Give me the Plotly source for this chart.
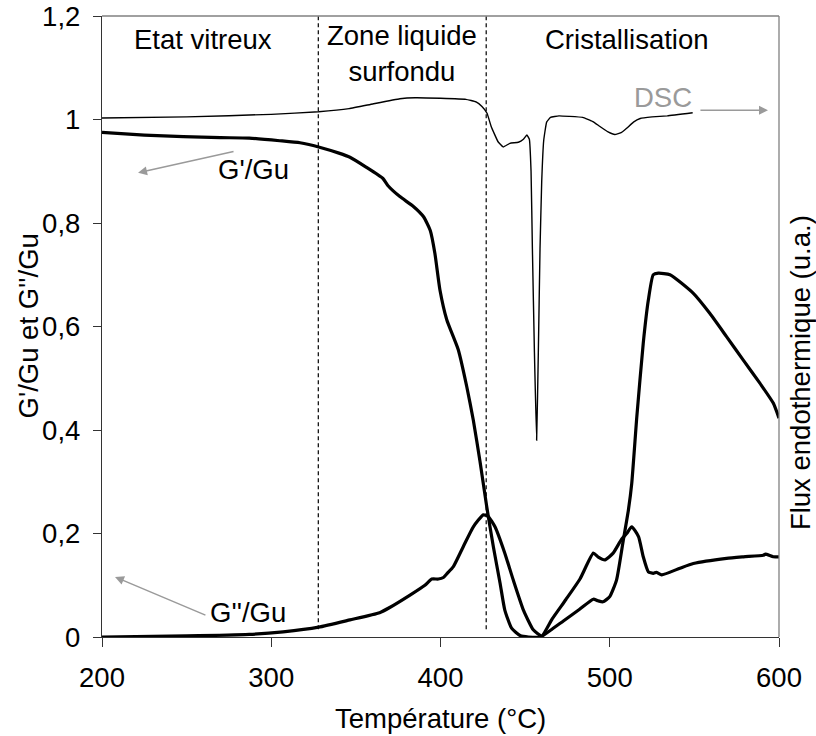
import plotly.graph_objects as go

# G'/Gu
t_g1 = [200, 225, 248, 270, 287, 305, 317, 329, 340, 346.5, 356, 366, 369, 376, 384, 390, 394,
        396.7, 399.7, 403.7, 410.5, 415.5, 419.4, 423.3, 427.3, 431.2, 435.2, 438, 442, 447, 452,
        459, 465, 472.6, 482, 490.3, 493, 496, 500, 504, 508, 511, 513, 516, 519.8, 522.8, 525.7,
        528.7, 535.6, 549.4, 559.2, 569.1, 578.9, 588.8, 596.6, 600]
g1 = [0.975, 0.970, 0.967, 0.965, 0.964, 0.959, 0.955, 0.946, 0.935, 0.927, 0.908, 0.886, 0.872,
      0.851, 0.832, 0.812, 0.785, 0.741, 0.670, 0.613, 0.555, 0.484, 0.419, 0.340, 0.252, 0.175,
      0.104, 0.052, 0.017, 0.003, 0.0, 0.0, 0.013, 0.031, 0.053, 0.073, 0.070, 0.068, 0.078,
      0.110, 0.187, 0.245, 0.297, 0.426, 0.568, 0.651, 0.700, 0.703, 0.700, 0.664, 0.625, 0.580,
      0.535, 0.490, 0.452, 0.423]

# G''/Gu
t_g2 = [200, 250, 287, 307, 328, 346.5, 364, 370, 382, 390.8, 394.8, 398.7, 401.7, 404, 407.6,
        413.5, 419.4, 425.3, 428.2, 432.2, 438, 443, 449, 454.8, 459.8, 466, 474, 482.4, 490.3,
        493, 497.2, 502, 507, 510, 513, 517, 519.8, 522.8, 525.7, 527.5, 530.7, 541.5, 549.4,
        569, 579, 590.7, 592, 596.6, 600]
g2 = [0.0, 0.002, 0.005, 0.010, 0.019, 0.033, 0.047, 0.057, 0.081, 0.100, 0.112, 0.112, 0.115,
      0.123, 0.136, 0.175, 0.213, 0.236, 0.233, 0.213, 0.162, 0.110, 0.052, 0.014, 0.002, 0.035,
      0.072, 0.112, 0.162, 0.155, 0.149, 0.162, 0.189, 0.200, 0.213, 0.194, 0.155, 0.126, 0.123,
      0.125, 0.120, 0.133, 0.142, 0.152, 0.155, 0.158, 0.160, 0.155, 0.155]

# DSC
t_dsc = [200, 250, 300, 328, 346, 360, 376, 385, 400, 415, 421, 424.5, 427.5, 430, 434, 437, 441,
         446, 449, 451, 452.5, 453.5, 454.3, 455.5, 456.8, 457.8, 458.8, 459.8, 461, 462.7, 465,
         470, 476, 484, 490, 494, 499, 503, 507, 510, 514, 518, 525, 534, 549]
dsc = [1.003, 1.005, 1.010, 1.015, 1.021, 1.030, 1.040, 1.042, 1.041, 1.039, 1.034, 1.025, 1.012,
       0.986, 0.957, 0.947, 0.954, 0.956, 0.962, 0.970, 0.962, 0.90, 0.75, 0.55, 0.38, 0.55, 0.75,
       0.88, 0.96, 0.995, 1.004, 1.007, 1.006, 1.004, 0.996, 0.987, 0.976, 0.971, 0.975, 0.983,
       0.995, 1.002, 1.005, 1.007, 1.013]

zone_limits = [327.8, 427]
zone_labels = ["Etat vitreux", "Zone liquide<br>surfondu", "Cristallisation"]
zone_label_x = [259.4, 377, 510]

FONT = "Liberation Sans, Arial, sans-serif"
FS = 27.5

fig = go.Figure()
fig.add_trace(go.Scatter(x=t_g1, y=g1, mode="lines", line=dict(color="black", width=3.2, shape="spline", smoothing=0.5), name="G'/Gu"))
fig.add_trace(go.Scatter(x=t_g2, y=g2, mode="lines", line=dict(color="black", width=3.2, shape="spline", smoothing=0.5), name="G''/Gu"))
fig.add_trace(go.Scatter(x=t_dsc, y=dsc, mode="lines", line=dict(color="black", width=1.4, shape="spline", smoothing=0.3), name="DSC"))

shapes = []
for xl in zone_limits:
    shapes.append(dict(type="line", xref="x", yref="y", x0=xl, x1=xl, y0=0.015, y1=1.2,
                       line=dict(color="black", width=1.2, dash="4px,3px")))
# frame top and right
shapes.append(dict(type="line", xref="paper", yref="paper", x0=0, x1=1, y0=1, y1=1,
                   line=dict(color="#808080", width=1.3)))
shapes.append(dict(type="line", xref="paper", yref="paper", x0=1, x1=1, y0=0, y1=1,
                   line=dict(color="#808080", width=1.3)))

ann = []
ann.append(dict(x=zone_label_x[0], y=1.155, text=zone_labels[0], showarrow=False))
ann.append(dict(x=zone_label_x[1], y=1.128, text=zone_labels[1], showarrow=False))
ann.append(dict(x=zone_label_x[2], y=1.155, text=zone_labels[2], showarrow=False))
ann.append(dict(x=289.8, y=0.903, text="G'/Gu", showarrow=False))
ann.append(dict(x=286.3, y=0.048, text="G''/Gu", showarrow=False))
ann.append(dict(x=531.5, y=1.043, text="DSC", showarrow=False, font=dict(color="#9a9a9a", size=FS, family=FONT)))
arrow_style = dict(text="", showarrow=True, axref="x", ayref="y", arrowhead=2, arrowsize=1.2,
                   arrowwidth=1.5, arrowcolor="#9a9a9a")
ann.append(dict(x=221.3, y=0.897, ax=278.6, ay=0.939, **arrow_style))
ann.append(dict(x=207.7, y=0.116, ax=262, ay=0.041, **arrow_style))
ann.append(dict(x=593.5, y=1.018, ax=552.7, ay=1.018, **arrow_style))
# axis titles
ann.append(dict(xref="paper", yref="paper", x=0.5, y=0, yshift=-81, yanchor="middle",
                text="Température (°C)", showarrow=False))
ann.append(dict(xref="paper", yref="y", x=0, xshift=-74, xanchor="center", y=0.6,
                text="G'/Gu et G''/Gu", textangle=-90, showarrow=False))
ann.append(dict(xref="paper", yref="y", x=1, xshift=21, xanchor="center", y=0.51,
                text="Flux endothermique (u.a.)", textangle=-90, showarrow=False))

fig.update_layout(
    width=816, height=736,
    margin=dict(l=102, r=37, t=16, b=99),
    paper_bgcolor="white", plot_bgcolor="white",
    showlegend=False,
    separators=", ",
    font=dict(family=FONT, size=FS, color="black"),
    shapes=shapes,
    annotations=ann,
)
fig.update_xaxes(range=[200, 600], tickvals=[200, 300, 400, 500, 600], showgrid=False, zeroline=False,
                 showline=True, linecolor="#333333", linewidth=1.3, ticks="outside", ticklen=9,
                 tickcolor="#333333", ticklabelstandoff=7, automargin=False)
fig.update_yaxes(range=[0, 1.2], tickvals=[0, 0.2, 0.4, 0.6, 0.8, 1, 1.2], showgrid=False, zeroline=False,
                 showline=True, linecolor="#333333", linewidth=1.3, ticks="outside", ticklen=8,
                 tickcolor="#333333", ticklabelstandoff=7, automargin=False)

# drop the browser's default body margin so the figure sits at the page origin
fig.write_html("out.html", config={"displayModeBar": False},
               post_script="document.body.style.margin='0';")
